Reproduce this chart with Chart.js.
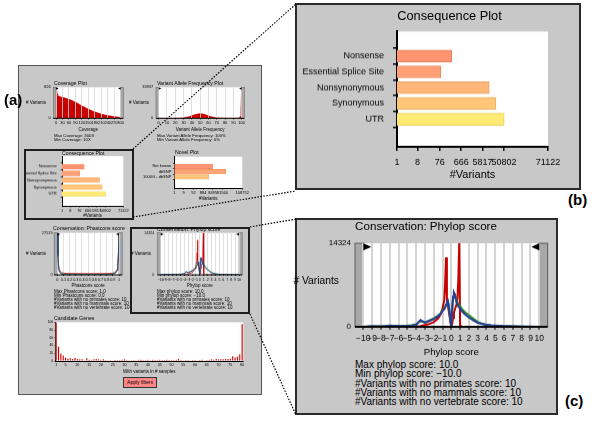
<!DOCTYPE html>
<html>
<head>
  <meta charset="utf-8">
  <title>Variant filter plots</title>
  <script src="https://cdn.jsdelivr.net/npm/chart.js"></script>
  <style>
    body { margin: 0; background: #fff; }
    #fig { position: relative; width: 600px; height: 429px; overflow: hidden;
           font-family: 'Liberation Sans', Arial, sans-serif; color: #000; }
    .panel { position: absolute; background: #c8c8c8; box-sizing: border-box; }
    .box { position: absolute; box-sizing: border-box; border: 2px solid #1e1e1e; }
    .cw { position: absolute; }
    .t { position: absolute; white-space: nowrap; line-height: 1; }
    .c { transform: translateX(-50%); }
    .lab { position: absolute; font-weight: bold; font-size: 15px; line-height: 1; }
    .btn { position: absolute; left: 123px; top: 377px; width: 34px; height: 11px; box-sizing: border-box;
           background: #ff8686; border: 1px solid #333; font-size: 5px; line-height: 9px; text-align: center; }
    svg { position: absolute; left: 0; top: 0; }
  </style>
</head>
<body>
<div id="fig">
  <!-- (a) application screenshot -->
  <div class="panel" style="left:18px;top:65px;width:244px;height:330px;border:1px solid #555;"></div>
  <!-- (b) and (c) zoomed panels -->
  <div class="panel" style="left:295px;top:3px;width:286px;height:187px;border:2px solid #2a2a2a;"></div>
  <div class="panel" style="left:295px;top:218px;width:263px;height:197px;border:2px solid #2a2a2a;"></div>

  <div class="cw" id="covWrap"><canvas></canvas></div>
  <div class="cw" id="vafWrap"><canvas></canvas></div>
  <div class="cw" id="consSmallWrap"><canvas></canvas></div>
  <div class="cw" id="novelWrap"><canvas></canvas></div>
  <div class="cw" id="phastWrap"><canvas></canvas></div>
  <div class="cw" id="phylopSmallWrap"><canvas></canvas></div>
  <div class="cw" id="genesWrap"><canvas></canvas></div>
  <div class="cw" id="consBigWrap"><canvas></canvas></div>
  <div class="cw" id="phylopBigWrap"><canvas></canvas></div>

  <div class="box" style="left:24px;top:149px;width:110px;height:71px;"></div>
  <div class="box" style="left:130px;top:227px;width:120px;height:87px;"></div>

  <div class="lab" style="left:4px;top:92px;">(a)</div>
  <div class="lab" style="left:568px;top:192px;">(b)</div>
  <div class="lab" style="left:565px;top:393px;">(c)</div>

  <!-- texts of panel (a) -->
  <div class="t" style="left:54px;top:81.1px;font-size:5.2px;">Coverage Plot</div>
  <div class="t" style="left:157px;top:81.1px;font-size:5.2px;">Variant Allele Frequency Plot</div>
  <div class="t" style="left:26px;top:100.5px;font-size:4.5px;"># Variants</div>
  <div class="t" style="left:129px;top:100.5px;font-size:4.5px;"># Variants</div>
  <div class="t" style="left:54px;top:133.7px;font-size:4.3px;">Max Coverage: 300X</div>
  <div class="t" style="left:54px;top:137.7px;font-size:4.3px;">Min Coverage: 10X</div>
  <div class="t" style="left:157px;top:133.7px;font-size:4.3px;">Max Variant Allele Frequency: 100%</div>
  <div class="t" style="left:157px;top:137.7px;font-size:4.3px;">Min Variant Allele Frequency: 0%</div>
  <div class="t" style="left:62px;top:151px;font-size:5.2px;">Consequence Plot</div>
  <div class="t" style="left:175px;top:149.8px;font-size:5.2px;">Novel Plot</div>
  <div class="t" style="left:53px;top:226.1px;font-size:5.2px;">Conservation: Phastcons score</div>
  <div class="t" style="left:157px;top:226.6px;font-size:5.2px;">Conservation: Phylop score</div>
  <div class="t" style="left:26px;top:251.5px;font-size:4.5px;"># Variants</div>
  <div class="t" style="left:131px;top:251.5px;font-size:4.5px;"># Variants</div>
  <div class="t" style="left:54px;top:289.5px;font-size:4.5px;">Max Phastcons score: 1.0</div>
  <div class="t" style="left:54px;top:293.5px;font-size:4.5px;">Min Phastcons score: 0.0</div>
  <div class="t" style="left:54px;top:297.5px;font-size:4.5px;">#Variants with no primates score: 10</div>
  <div class="t" style="left:54px;top:301.5px;font-size:4.5px;">#Variants with no mammals score: 10</div>
  <div class="t" style="left:54px;top:305.5px;font-size:4.5px;">#Variants with no vertebrate score: 10</div>
  <div class="t" style="left:157px;top:289.5px;font-size:4.5px;">Max phylop score: 10.0</div>
  <div class="t" style="left:157px;top:293.5px;font-size:4.5px;">Min phylop score: −10.0</div>
  <div class="t" style="left:157px;top:297.5px;font-size:4.5px;">#Variants with no primates score: 10</div>
  <div class="t" style="left:157px;top:301.5px;font-size:4.5px;">#Variants with no mammals score: 10</div>
  <div class="t" style="left:157px;top:305.5px;font-size:4.5px;">#Variants with no vertebrate score: 10</div>
  <div class="t" style="left:54px;top:316.1px;font-size:5.2px;">Candidate Genes</div>
  <div class="btn">Apply filters</div>

  <!-- texts of panels (b) and (c) -->
  <div class="t c" style="left:449.5px;top:9.7px;font-size:12.8px;">Consequence Plot</div>
  <div class="t c" style="left:426px;top:219.6px;font-size:11.6px;">Conservation: Phylop score</div>
  <div class="t" style="right:261px;top:276.3px;font-size:10.3px;"># Variants</div>
  <div class="t" style="left:355px;top:360.2px;font-size:10px;">Max phylop score: 10.0</div>
  <div class="t" style="left:355px;top:369.4px;font-size:10px;">Min phylop score: −10.0</div>
  <div class="t" style="left:355px;top:378.7px;font-size:10px;">#Variants with no primates score: 10</div>
  <div class="t" style="left:355px;top:387.9px;font-size:10px;">#Variants with no mammals score: 10</div>
  <div class="t" style="left:355px;top:397.2px;font-size:10px;">#Variants with no vertebrate score: 10</div>

  <svg width="600" height="429">
    <g stroke="#000" stroke-width="1.2" stroke-dasharray="1.5 1.5" fill="none">
      <line x1="133" y1="149" x2="296" y2="4"/>
      <line x1="133" y1="217" x2="296" y2="191"/>
      <line x1="250" y1="227" x2="296" y2="219"/>
      <line x1="250" y1="314" x2="296" y2="415"/>
    </g>
  </svg>
</div>

<script>
  // coverage histogram
  const coverageX = [0, 2, 4, 6, 8, 10, 15, 20, 30, 40, 50, 60, 70, 80, 90, 100, 110, 120, 130, 140, 150,
    160, 170, 180, 190, 200, 210, 220, 230, 240, 250, 260, 270, 280, 290, 300];
  const coverageCount = [60, 826, 760, 650, 610, 600, 590, 575, 560, 545, 525, 505, 485, 460, 430, 400, 370, 335, 305, 275, 245,
    220, 195, 172, 152, 133, 117, 102, 89, 77, 66, 56, 47, 39, 31, 24];

  // variant allele frequency histogram
  const vafX = [0, 10, 20, 25, 30, 35, 40, 45, 50, 55, 60, 65, 70, 75, 80, 90, 95, 97, 98, 99, 100];
  const vafCount = [0, 0, 30, 150, 500, 1500, 3000, 4400, 5300, 4400, 2800, 1400, 600, 200, 80, 30, 100, 400, 2000, 10000, 33937];

  // consequence plot
  const consCategories = ['Nonsense', 'Essential Splice Site', 'Nonsynonymous', 'Synonymous', 'UTR'];
  const consCounts = [254, 84, 11460, 22500, 52100];
  const consTickValues = [1, 8, 76, 666, 5817, 50802, 4400000];
  const consTickLabels = ['1', '8', '76', '666', '5817', '50802', '71122'];
  const consColors = ['#ff9470', '#ff9f73', '#ffb678', '#ffc678', '#ffea74'];
  const consEdges = ['#e8805d', '#e88a60', '#e8a066', '#e8b066', '#e8d260'];

  // novel plot
  const novelCategories = ['Not known', 'dbSNP', '1000G - dbSNP'];
  const novelCounts = [8100, 180000, 3240];
  const novelTickValues = [1, 9, 92, 884, 8495, 81560, 8700000];
  const novelTickLabels = ['1', '9', '92', '884', '8495', '81560', '108752'];
  const novelColors = ['#ff9470', '#ffa474', '#ffc27b'];
  const novelEdges = ['#e8805d', '#e89060', '#e8ac68'];

  // phastcons score
  const phastX = [0, 0.01, 0.02, 0.03, 0.05, 0.07, 0.1, 0.15, 0.2, 0.3, 0.4, 0.5, 0.6, 0.7, 0.8, 0.85,
    0.9, 0.93, 0.95, 0.97, 0.98, 0.99, 1];
  const phastPrimates = [27519, 14000, 6500, 3800, 2200, 1500, 1100, 950, 900, 850, 800, 780, 800, 830, 880, 950,
    1100, 1500, 2100, 3600, 6200, 13500, 27519];
  const phastMammals = [27519, 13000, 5500, 3000, 1500, 900, 600, 450, 400, 380, 360, 350, 360, 380, 420, 480,
    650, 1000, 1600, 3000, 5600, 12500, 27519];
  const phastVertebrates = [27519, 12000, 5000, 2500, 1000, 500, 300, 200, 160, 140, 130, 120, 130, 140, 170, 220,
    400, 800, 1400, 2800, 5400, 12000, 27519];

  // phylop score
  const phylopX = [-10, -9, -8, -7, -6, -5, -4.5, -4, -3.5, -3, -2.5, -2, -1.5, -1.2, -1, -0.8, -0.7, -0.6, -0.5,
    -0.4, -0.3, -0.2, -0.1, 0, 0.1, 0.2, 0.3, 0.4, 0.5, 0.6, 0.7, 0.8, 0.9, 1, 1.1, 1.2, 1.5, 2, 2.5, 3, 3.5,
    4, 4.5, 5, 6, 7, 8, 9, 10];
  const phylopPrimates = [0, 0, 0, 0, 0, 0, 20, 60, 150, 300, 500, 800, 1400, 2200, 3200, 4500, 7500, 11900, 4800,
    3600, 2800, 1800, 700, 150, 500, 1500, 2400, 3000, 3400, 3900, 5000, 8200, 14324, 300, 0, 0, 0, 0, 0, 0, 0,
    0, 0, 0, 0, 0, 0, 0, 0];
  const phylopMammals = [0, 60, 120, 90, 160, 220, 280, 450, 950, 750, 1100, 1450, 1950, 2350, 2850, 3150, 3350, 3650, 4000,
    4300, 3600, 2400, 1100, 500, 2800, 5000, 5700, 5500, 5000, 4600, 4200, 3900, 3700, 3500, 3300, 3100, 2600, 2000, 1400, 850, 550,
    330, 220, 160, 110, 70, 40, 20, 0];
  const phylopVertebrates = [0, 120, 60, 220, 110, 170, 230, 320, 1150, 700, 1000, 1300, 1800, 2200, 2700, 3000, 3400, 3800, 4200,
    4500, 3800, 2500, 1200, 400, 3000, 5200, 5900, 5600, 4800, 4200, 3800, 3500, 3300, 3100, 2900, 2700, 2200, 1600, 1100, 700, 480,
    350, 250, 200, 130, 90, 60, 30, 0];

  // candidate genes
  const geneSamples = Array.from({ length: 80 }, (_, i) => String(i + 1));
  const geneCounts = [100, 38, 20, 15, 10, 7, 8, 6, 9, 6,
    5, 5, 2, 8, 4, 3, 5, 6, 5, 3,
    5, 3, 2, 3, 1, 3, 3, 3, 4, 5,
    3, 2, 2, 3, 2, 4, 4, 3, 3, 4,
    2, 4, 3, 3, 4, 3, 3, 4, 3, 3,
    3, 4, 6, 3, 2, 3, 3, 2, 3, 3,
    2, 3, 4, 2, 3, 3, 5, 4, 6, 5,
    5, 5, 6, 6, 7, 13, 10, 12, 18, 96];

  const RED = '#c80000', GREEN = '#2f8a2f', BLUE = '#243f95';

  // white plot area, grey slider bars with handles, long bottom axis line
  const decor = {
    id: 'decor',
    beforeDraw(chart, args, opts) {
      const { ctx, chartArea: a } = chart;
      ctx.save();
      ctx.fillStyle = '#fff';
      ctx.fillRect(a.left, a.top, a.right - a.left, a.bottom - a.top);
      if (opts.slider) {
        const w = opts.slider;
        ctx.fillStyle = '#a8a8a8';
        ctx.strokeStyle = '#5a5a5a';
        ctx.lineWidth = opts.lw / 2;
        ctx.fillRect(a.left - w, a.top, w, a.bottom - a.top);
        ctx.fillRect(a.right, a.top, w, a.bottom - a.top);
        ctx.strokeRect(a.left - w, a.top, w, a.bottom - a.top);
        ctx.strokeRect(a.right, a.top, w, a.bottom - a.top);
      }
      ctx.restore();
    },
    afterDraw(chart, args, opts) {
      if (!opts.slider) return;
      const { ctx, chartArea: a } = chart;
      const w = opts.slider, h = opts.tri;
      ctx.save();
      ctx.fillStyle = '#000';
      ctx.beginPath();
      ctx.moveTo(a.left, a.top); ctx.lineTo(a.left + h, a.top + h * 0.45); ctx.lineTo(a.left, a.top + h * 0.9);
      ctx.fill();
      ctx.beginPath();
      ctx.moveTo(a.right, a.top); ctx.lineTo(a.right - h, a.top + h * 0.45); ctx.lineTo(a.right, a.top + h * 0.9);
      ctx.fill();
      ctx.strokeStyle = '#000';
      ctx.lineWidth = opts.lw;
      ctx.beginPath();
      ctx.moveTo(a.left - w, a.bottom); ctx.lineTo(a.right + w, a.bottom);
      ctx.stroke();
      ctx.restore();
    }
  };

  Chart.defaults.font.family = "'Liberation Sans', Arial, sans-serif";
  Chart.defaults.color = '#000';
  Chart.defaults.animation = false;
  Chart.defaults.events = [];
  Chart.defaults.maintainAspectRatio = false;
  Chart.defaults.plugins.legend.display = false;
  Chart.defaults.plugins.tooltip.enabled = false;
  Chart.register(decor);

  // rect = canvas box on the page, area = wanted plot area on the page
  function makeChart(id, rect, area, config) {
    const d = document.getElementById(id);
    d.style.left = rect[0] + 'px';
    d.style.top = rect[1] + 'px';
    d.style.width = (rect[2] - rect[0]) + 'px';
    d.style.height = (rect[3] - rect[1]) + 'px';
    const o = config.options;
    o.responsive = true;
    o.layout = { padding: { left: 0, top: area[1] - rect[1], right: rect[2] - area[2], bottom: 0 } };
    o.scales.x.afterFit = s => { s.height = rect[3] - area[3]; };
    o.scales.y.afterFit = s => { s.width = area[0] - rect[0]; };
    return new Chart(d.querySelector('canvas'), config);
  }

  function pts(xs, ys) {
    return xs.map((x, i) => ({ x: x, y: ys[i] }));
  }

  function histogram(id, rect, area, xs, series, s) {
    return makeChart(id, rect, area, {
      type: 'line',
      data: {
        datasets: series.map(d => ({
          data: pts(xs, d.values),
          borderColor: d.color,
          backgroundColor: d.color,
          fill: d.fill ? 'origin' : false,
          borderWidth: s.lw,
          pointRadius: 0,
          tension: 0
        }))
      },
      options: {
        plugins: { decor: { slider: s.slider, tri: s.tri, lw: s.axisW } },
        scales: {
          x: {
            type: 'linear', min: s.xmin, max: s.xmax,
            ticks: { stepSize: s.step, font: { size: s.tickSize }, padding: s.xPad, maxRotation: 0, minRotation: 0,
                     autoSkip: false, callback: s.fmt },
            grid: { color: s.gridColor, lineWidth: s.gridW, z: s.gridZ, tickColor: '#000', tickLength: s.tickLen, tickWidth: 1 },
            border: { display: false },
            title: { display: true, text: s.title, font: { size: s.titleSize }, padding: 0 }
          },
          y: {
            min: 0, max: s.ymax,
            afterBuildTicks: sc => { sc.ticks = [{ value: 0 }, { value: s.ymax }]; },
            ticks: { font: { size: s.yTickSize || s.tickSize }, padding: s.yPad, callback: v => String(v) },
            grid: { display: false, drawTicks: false },
            border: { display: false }
          }
        }
      }
    });
  }

  function hbar(id, rect, area, cats, counts, colors, edges, tickVals, tickLabels, logMax, s) {
    return makeChart(id, rect, area, {
      type: 'bar',
      data: {
        datasets: [{
          data: counts.map((v, i) => ({ x: v, y: i })),
          backgroundColor: colors,
          borderColor: edges,
          borderWidth: s.barBorder,
          barThickness: s.barH
        }]
      },
      options: {
        indexAxis: 'y',
        plugins: { decor: {} },
        scales: {
          x: {
            type: 'logarithmic', min: 1, max: logMax,
            afterBuildTicks: sc => { sc.ticks = tickVals.map(v => ({ value: v })); },
            ticks: { font: { size: s.tickSize }, padding: s.xPad, maxRotation: 0, minRotation: 0, autoSkip: false,
                     callback: (v, i) => tickLabels[i] },
            grid: { drawOnChartArea: false, color: '#000', tickLength: s.tickLen, lineWidth: s.tickW },
            border: { color: '#000', width: s.axisW },
            title: { display: true, text: '#Variants', font: { size: s.titleSize }, padding: 0 }
          },
          y: {
            type: 'linear', reverse: true, min: s.ymin, max: s.ymax,
            afterBuildTicks: sc => { sc.ticks = cats.map((c, i) => ({ value: i })); },
            ticks: { font: { size: s.catSize }, padding: s.yPad, autoSkip: false, callback: v => cats[v] },
            grid: { drawOnChartArea: false, color: '#000', tickLength: s.tickLen, lineWidth: s.tickW },
            border: { color: '#000', width: s.axisW }
          }
        }
      }
    });
  }

  const minus = v => (v < 0 ? '\u2212' + (-v) : String(v));

  // (a) coverage and allele frequency
  histogram('covWrap', [20, 79, 127, 132.2], [56, 87.3, 120.7, 118.3], coverageX,
    [{ values: coverageCount, color: RED, fill: true }],
    { xmin: 0, xmax: 300, step: 30, ymax: 826, title: 'Coverage', titleSize: 4.5, tickSize: 4, xPad: 1.3, yPad: 5.3,
      tickLen: 1, lw: 0.5, gridColor: '#d8d8d8', gridW: 0.8, gridZ: 1, slider: 2.7, tri: 2.6, axisW: 1 });
  histogram('vafWrap', [126, 79, 247, 132.2], [158.7, 87.3, 241.7, 118.3], vafX,
    [{ values: vafCount, color: RED, fill: true }],
    { xmin: 0, xmax: 100, step: 10, ymax: 33937, title: 'Variant Allele Frequency', titleSize: 4.5, tickSize: 4, xPad: 1.3,
      yPad: 5.4, tickLen: 1, lw: 0.5, gridColor: '#d8d8d8', gridW: 0.8, gridZ: 1, slider: 2.7, tri: 2.6, axisW: 1 });

  // (a) consequence and novel
  hbar('consSmallWrap', [24, 148, 133, 217.7], [62, 156, 123.3, 205], consCategories, consCounts, consColors, consEdges,
    consTickValues, consTickLabels, 4400000,
    { barH: 4.6, barBorder: 0.4, tickSize: 4, catSize: 4, titleSize: 4.5, xPad: 1.1, yPad: 3.8, tickLen: 1.5, tickW: 0.6,
      axisW: 1, ymin: -0.8, ymax: 5.03 });
  hbar('novelWrap', [138, 149, 250, 201], [174.3, 156.7, 243.5, 188.3], novelCategories, novelCounts, novelColors, novelEdges,
    novelTickValues, novelTickLabels, 8700000,
    { barH: 4.6, barBorder: 0.4, tickSize: 4, catSize: 4, titleSize: 4.5, xPad: 1.1, yPad: 1.5, tickLen: 1.5, tickW: 0.6,
      axisW: 1, ymin: -0.84, ymax: 3.18 });

  // (a) conservation
  histogram('phastWrap', [22, 224, 125, 287.7], [57.3, 232.7, 119, 274], phastX,
    [{ values: phastVertebrates, color: BLUE }, { values: phastMammals, color: GREEN }, { values: phastPrimates, color: RED }],
    { xmin: 0, xmax: 1, step: 0.1, ymax: 27519, title: 'Phastcons score', titleSize: 4.5, tickSize: 3.8, xPad: 1.9, yPad: 4.8,
      tickLen: 1, lw: 0.8, gridColor: '#d8d8d8', gridW: 0.8, gridZ: 0, slider: 3.2, tri: 3, axisW: 1 });
  histogram('phylopSmallWrap', [126, 224, 246, 287.7], [160.7, 232.7, 239, 274], phylopX,
    [{ values: phylopVertebrates, color: BLUE }, { values: phylopMammals, color: GREEN }, { values: phylopPrimates, color: RED }],
    { xmin: -10, xmax: 10, step: 1, ymax: 14324, title: 'Phylop score', titleSize: 4.5, tickSize: 3.6, xPad: 1.9, yPad: 6.4,
      tickLen: 1, lw: 0.8, gridColor: '#d8d8d8', gridW: 0.8, gridZ: 0, slider: 3.2, tri: 3, axisW: 1, fmt: minus });

  // (a) candidate genes
  makeChart('genesWrap', [40, 314, 249, 374.4], [55, 322.3, 243.3, 361], {
    type: 'bar',
    data: {
      labels: geneSamples,
      datasets: [{ data: geneCounts, backgroundColor: RED, borderColor: '#f29a9a', borderWidth: 0.4,
                   barPercentage: 0.8, categoryPercentage: 1 }]
    },
    options: {
      plugins: { decor: {} },
      scales: {
        x: {
          ticks: { font: { size: 3.6 }, padding: 0.8, maxRotation: 0, minRotation: 0, autoSkip: false,
                   callback: (v, i) => (i === 0 || (i + 1) % 5 === 0 ? geneSamples[i] : '') },
          grid: { drawOnChartArea: false, color: '#000', tickLength: 1, lineWidth: 0.4 },
          border: { color: '#000', width: 1 },
          title: { display: true, text: 'With variants in # samples', font: { size: 4.5 }, padding: 0 }
        },
        y: {
          min: 0, max: 100,
          ticks: { stepSize: 10, font: { size: 3.3 }, padding: 0.8 },
          grid: { drawOnChartArea: false, color: '#000', tickLength: 1, lineWidth: 0.4 },
          border: { color: '#000', width: 1 }
        }
      }
    }
  });

  // (b) consequence plot, zoomed
  hbar('consBigWrap', [298, 17, 580, 180.6], [397, 25, 548, 146], consCategories, consCounts, consColors, consEdges,
    consTickValues, consTickLabels, 4400000,
    { barH: 12, barBorder: 1, tickSize: 9, catSize: 9, titleSize: 11, xPad: 6.3, yPad: 9, tickLen: 4, tickW: 1.5,
      axisW: 2, ymin: -0.82, ymax: 5.01 });

  // (c) phylop score, zoomed
  histogram('phylopBigWrap', [298, 226, 556, 356.7], [363.3, 234, 539.3, 326], phylopX,
    [{ values: phylopVertebrates, color: BLUE }, { values: phylopMammals, color: GREEN }, { values: phylopPrimates, color: RED }],
    { xmin: -10, xmax: 10, step: 1, ymax: 14324, title: 'Phylop score', titleSize: 9.5, tickSize: 8.5, yTickSize: 8,
      xPad: 3.9, yPad: 12.3, tickLen: 3, lw: 2, gridColor: '#d4d4d4', gridW: 2, gridZ: 0, slider: 8.3, tri: 8, axisW: 2,
      fmt: minus });
</script>
</body>
</html>
